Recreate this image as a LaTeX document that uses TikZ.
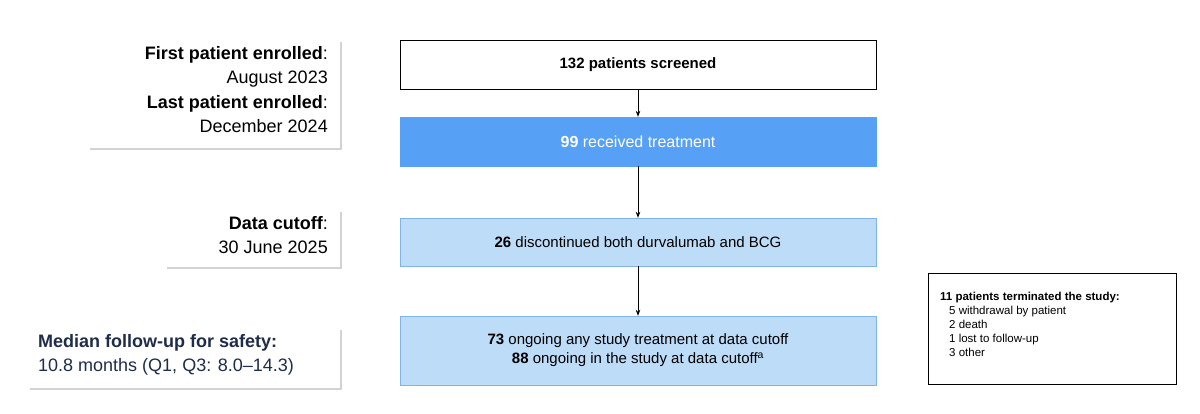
\documentclass[tikz,border=0pt]{standalone}
\usepackage{fontspec}
\setmainfont{Liberation Sans}
\usetikzlibrary{shadows,arrows.meta}
\definecolor{bluedark}{HTML}{56A0F5}
\definecolor{bluelight}{HTML}{BDDCF8}
\definecolor{blueedge}{HTML}{7FB3EA}
\definecolor{navy}{HTML}{1F2D4A}
\tikzset{
  x=1pt,y=-1pt,
  flow/.style={draw,minimum width=476pt,inner sep=0pt,align=center,font=\fontsize{15}{18}\selectfont},
  info/.style={fill=white,drop shadow={shadow xshift=2pt,shadow yshift=-2pt,opacity=0.35,fill=gray},inner sep=0pt},
  arr/.style={-{Stealth[length=6pt,width=4.5pt]},line width=0.8pt}
}
\begin{document}
\begin{tikzpicture}
\useasboundingbox (0,0) rectangle (1200,413);
% flow boxes
\node[flow,fill=white,line width=0.8pt,minimum height=49pt] (s) at (638,64.5) {\textbf{132 patients screened}};
\node[flow,fill=bluedark,draw=bluedark,text=white,minimum height=49pt,font=\fontsize{16}{19}\selectfont] (t) at (638,141.5) {\textbf{99} received treatment};
\node[flow,fill=bluelight,draw=blueedge,minimum height=48pt] (d) at (638,242) {\textbf{26} discontinued both durvalumab and BCG};
\node[flow,fill=bluelight,draw=blueedge,minimum height=69pt,font=\fontsize{15}{19}\selectfont] (o) at (638,350.5) {\textbf{73} ongoing any study treatment at data cutoff\\\textbf{88} ongoing in the study at data cutoff\textsuperscript{a}};
\draw[arr] (s) -- (t);
\draw[arr] (t) -- (d);
\draw[arr] (d) -- (o);
% termination box
\node[draw,line width=0.8pt,minimum width=248pt,minimum height=111pt] (term) at (1052,328.5) {};
\node[anchor=north west,align=left,font=\fontsize{11.5}{14}\selectfont,inner sep=0pt] (termtxt) at (940,292) {\textbf{11 patients terminated the study:}\\\hspace*{9pt}5 withdrawal by patient\\\hspace*{9pt}2 death\\\hspace*{9pt}1 lost to follow-up\\\hspace*{9pt}3 other};
% info boxes
\path[info] (88,40) rectangle (340,148);
\node[anchor=north east,align=right,inner sep=0pt,font=\fontsize{18}{24.5}\selectfont] (en) at (328,46) {\textbf{First patient enrolled}:\\August 2023\\\textbf{Last patient enrolled}:\\December 2024};
\path[info] (165,210) rectangle (340,267);
\node[anchor=north east,align=right,inner sep=0pt,font=\fontsize{18}{24.5}\selectfont] (dc) at (328,216) {\textbf{Data cutoff}:\\30 June 2025};
\path[info] (28,328) rectangle (340,388);
\node[anchor=north west,align=left,inner sep=0pt,font=\fontsize{18}{24.5}\selectfont,text=navy] (mf) at (38,334) {\textbf{Median follow-up for safety:}\\10.8 months (Q1, Q3: 8.0–14.3)};
\end{tikzpicture}
\end{document}
